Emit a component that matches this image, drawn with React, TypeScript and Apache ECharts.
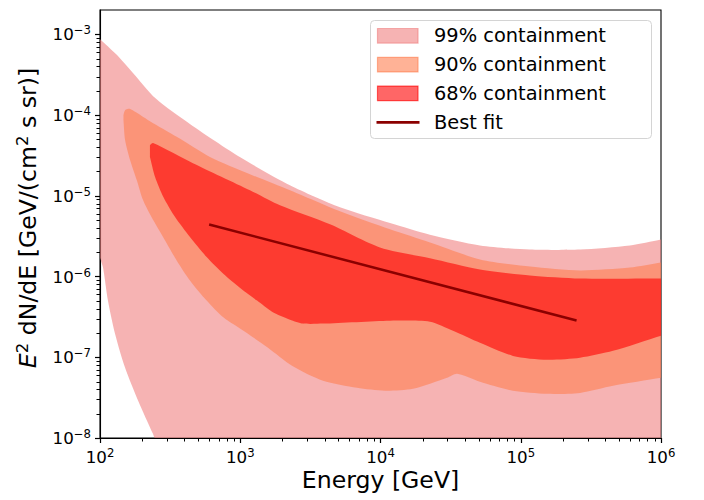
import React, { useEffect, useRef } from "react";
import * as echarts from "echarts";

// ---- axis ticks ----
const energyTicks = [1e2, 1e3, 1e4, 1e5, 1e6];
const fluxTicks = [1e-8, 1e-7, 1e-6, 1e-5, 1e-4, 1e-3];
const fluxMax = 2e-3;

// ---- 99% containment band ----
const band99UpperE = [100, 130, 170, 250, 440, 1000, 2260, 5140, 11700, 22500, 51200, 116000, 265000, 600000, 1000000];
const band99UpperF = [8.7e-4, 5.7e-4, 3.4e-4, 1.6e-4, 7.7e-5, 3.0e-5, 1.35e-5, 7.2e-6, 4.6e-6, 3.3e-6, 2.43e-6, 2.16e-6, 2.16e-6, 2.43e-6, 2.88e-6];
const band99LowerE = [100, 105, 114, 128, 151, 187, 239, 247, 1000000];
const band99LowerF = [1.7e-6, 1.3e-6, 5.0e-7, 1.96e-7, 7.4e-8, 2.9e-8, 1.12e-8, 1e-8, 1e-8];

// ---- 90% containment band ----
const band90UpperE = [147, 151, 164, 227, 352, 608, 1173, 2263, 5143, 11690, 22540, 51220, 116400, 264600, 601200, 1000000];
const band90UpperF = [1.0e-4, 1.15e-4, 1.19e-4, 8.4e-5, 5.37e-5, 3.03e-5, 1.85e-5, 1.17e-5, 6.42e-6, 3.84e-6, 2.64e-6, 1.63e-6, 1.33e-6, 1.19e-6, 1.29e-6, 1.49e-6];
const band90LowerE = [147, 151, 164, 183, 203, 240, 291, 352, 438, 576, 757, 1081, 1577, 2339, 3890, 6799, 10770, 17050, 29800, 35120, 51220, 88040, 153900, 264600, 454800, 1000000];
const band90LowerF = [8.67e-5, 4.89e-5, 2.76e-5, 1.56e-5, 8.79e-6, 4.96e-6, 2.8e-6, 1.58e-6, 8.92e-7, 5.03e-7, 3.12e-7, 2.07e-7, 1.31e-7, 7.84e-8, 5.11e-8, 4.18e-8, 3.84e-8, 4.06e-8, 5.56e-8, 6.24e-8, 4.97e-8, 3.84e-8, 3.52e-8, 3.62e-8, 4.43e-8, 5.56e-8];

// ---- 68% containment band ----
const band68UpperE = [227, 239, 460, 1173, 1920, 4365, 9917, 22540, 51220, 116400, 264600, 1000000];
const band68UpperF = [4.24e-5, 4.49e-5, 2.53e-5, 1.17e-5, 7.62e-6, 4.43e-6, 2.29e-6, 1.68e-6, 1.22e-6, 1.03e-6, 9.44e-7, 9.44e-7];
const band68LowerE = [227, 247, 283, 343, 438, 576, 757, 1051, 1317, 1684, 2263, 2802, 3890, 11690, 22540, 32880, 51220, 88040, 153900, 264600, 454800, 1000000];
const band68LowerF = [3.03e-5, 1.71e-5, 9.66e-6, 5.45e-6, 3.08e-6, 1.74e-6, 1.08e-6, 6.7e-7, 5.03e-7, 3.67e-7, 2.92e-7, 2.61e-7, 2.61e-7, 2.84e-7, 2.76e-7, 2.13e-7, 1.51e-7, 1.04e-7, 9.31e-8, 9.86e-8, 1.2e-7, 1.85e-7];

// ---- best fit ----
const fitE = [600, 250000];
const fitF = [4.4e-6, 2.85e-7];

const seriesNames = ["99% containment", "90% containment", "68% containment", "Best fit"];
const bandColors = ["rgba(240,128,128,0.6)", "rgba(255,127,80,0.6)", "rgba(255,0,0,0.6)"];
const fitColor = "#8b0000";

const FONT = "DejaVu Sans";

// Closed outline: upper boundary left->right, then lower boundary right->left.
// Boundary end points are repeated so the smoothing keeps those corners sharp.
function polygonPoints(upE: number[], upF: number[], loE: number[], loF: number[]) {
  const pts: number[][] = [];
  const n = upE.length;
  upE.forEach((e, i) => {
    pts.push([e, upF[i]]);
    if (i === 0 || i === n - 1) pts.push([e, upF[i]]);
  });
  const m = loE.length;
  for (let i = m - 1; i >= 0; i--) {
    pts.push([loE[i], loF[i]]);
    if (i === 0 || i === m - 1) pts.push([loE[i], loF[i]]);
  }
  return pts;
}

function minorTicks(majors: number[], max: number) {
  const out: number[] = [];
  majors.forEach((d) => {
    for (let k = 2; k <= 9; k++) {
      const v = k * d;
      if (v < max * 0.999) out.push(v);
    }
  });
  return out;
}

function bandSeries(name: string, color: string, pts: number[][]) {
  return {
    type: "custom",
    name,
    clip: true,
    silent: true,
    data: pts,
    encode: { x: 0, y: 1 },
    renderItem: (params: any, api: any) => {
      if (params.dataIndex !== 0) return null;
      const points = pts.map((p) => api.coord(p));
      return { type: "polygon", shape: { points, smooth: 0.25 }, style: { fill: color } };
    },
  };
}

// minor tick marks, placed through the axes' own log scales
function minorTickSeries(data: number[][], dir: "x" | "y") {
  return {
    type: "custom",
    silent: true,
    clip: false,
    data,
    encode: { x: 0, y: 1 },
    z: 50,
    renderItem: (params: any, api: any) => {
      const p = api.coord([api.value(0), api.value(1)]);
      const shape =
        dir === "x"
          ? { x1: Math.round(p[0]) + 0.5, y1: p[1], x2: Math.round(p[0]) + 0.5, y2: p[1] + 3.5 }
          : { x1: p[0] - 3.5, y1: Math.round(p[1]) + 0.5, x2: p[0], y2: Math.round(p[1]) + 0.5 };
      return { type: "line", shape, style: { stroke: "#000", lineWidth: 1 } };
    },
  };
}

const supText = (n: number) => (n < 0 ? "\u2212" + -n : String(n));
const powLabel = (v: number) => {
  const l = Math.log10(v);
  const n = Math.round(l);
  if (Math.abs(l - n) > 1e-6) return "";
  return `{b|10}{s|${supText(n)}}`;
};

const tickRich = {
  b: { fontSize: 16.7, fontFamily: FONT, color: "#000", lineHeight: 20 },
  s: { fontSize: 11.7, fontFamily: FONT, color: "#000", verticalAlign: "top", lineHeight: 12 },
};

export default function App() {
  const ref = useRef<HTMLDivElement>(null);
  useEffect(() => {
    if (!ref.current) return;
    const chart = echarts.init(ref.current, undefined, { renderer: "svg" });

    const legendRows = [35.8, 64.6, 93.4, 122.3];
    const graphic: any[] = [
      {
        type: "rect",
        shape: { x: 370.5, y: 20.5, width: 281, height: 118, r: 4 },
        style: { fill: "rgba(255,255,255,0.8)", stroke: "#d4d4d4", lineWidth: 1 },
        z: 100,
      },
    ];
    for (let i = 0; i < 3; i++) {
      graphic.push({
        type: "rect",
        shape: { x: 377.5, y: legendRows[i] - 7.3, width: 40.5, height: 14.6 },
        style: { fill: bandColors[i], stroke: bandColors[i], lineWidth: 1.2 },
        z: 101,
      });
    }
    graphic.push({
      type: "line",
      shape: { x1: 376.5, y1: legendRows[3], x2: 419.5, y2: legendRows[3] },
      style: { stroke: fitColor, lineWidth: 2.7 },
      z: 101,
    });
    for (let i = 0; i < 4; i++) {
      graphic.push({
        type: "text",
        x: 434,
        y: legendRows[i],
        style: {
          text: seriesNames[i],
          font: `19.4px "${FONT}"`,
          fill: "#000",
          verticalAlign: "middle",
          align: "left",
        },
        z: 101,
      });
    }

    const tickLine = { color: "#000", width: 1.2 };
    const eMin = energyTicks[0];
    const eMax = energyTicks[energyTicks.length - 1];
    const fMin = fluxTicks[0];
    const xMinor = minorTicks(energyTicks, eMax);
    const yMinor = minorTicks(fluxTicks, fluxMax);

    chart.setOption({
      animation: false,
      backgroundColor: "#fff",
      grid: {
        left: 100,
        right: 43,
        top: 10,
        bottom: 62,
        containLabel: false,
        outerBoundsMode: "none",
        show: true,
        borderColor: "#000",
        borderWidth: 1.1,
        backgroundColor: "transparent",
      },
      xAxis: {
        type: "log",
        logBase: 10,
        min: eMin,
        max: eMax,
        position: "bottom",
        axisLine: { show: true, lineStyle: { color: "#000", width: 1.1 } },
        splitLine: { show: false },
        minorTick: { show: false },
        nameMoveOverlap: false,
        axisTick: { show: true, length: 5, lineStyle: tickLine },
        axisLabel: { formatter: powLabel, margin: 9, rich: tickRich },
        name: "Energy [GeV]",
        nameLocation: "middle",
        nameGap: 30,
        nameTextStyle: { fontSize: 23.6, fontFamily: FONT, color: "#000" },
      },
      yAxis: {
        type: "log",
        logBase: 10,
        min: fMin,
        max: fluxMax,
        position: "left",
        axisLine: { show: true, lineStyle: { color: "#000", width: 1.1 } },
        splitLine: { show: false },
        minorTick: { show: false },
        nameMoveOverlap: false,
        axisTick: { show: true, length: 5, customValues: fluxTicks, lineStyle: tickLine },
        axisLabel: { customValues: fluxTicks, formatter: powLabel, margin: 9, rich: tickRich },
        name: "{i|E}{s|2} dN/dE [GeV/(cm{s|2} s sr)]",
        nameLocation: "middle",
        nameGap: 58,
        nameTextStyle: {
          fontSize: 23.6,
          fontFamily: FONT,
          color: "#000",
          padding: [0, 0, 0, 12],
          rich: {
            i: { fontSize: 23.6, fontFamily: FONT, fontStyle: "italic", color: "#000", lineHeight: 28 },
            s: { fontSize: 16.5, fontFamily: FONT, color: "#000", verticalAlign: "top", lineHeight: 16 },
          },
        },
      },
      series: [
        bandSeries(seriesNames[0], bandColors[0], polygonPoints(band99UpperE, band99UpperF, band99LowerE, band99LowerF)),
        bandSeries(seriesNames[1], bandColors[1], polygonPoints(band90UpperE, band90UpperF, band90LowerE, band90LowerF)),
        bandSeries(seriesNames[2], bandColors[2], polygonPoints(band68UpperE, band68UpperF, band68LowerE, band68LowerF)),
        {
          type: "line",
          name: seriesNames[3],
          data: fitE.map((e, i) => [e, fitF[i]]),
          showSymbol: false,
          symbol: "none",
          lineStyle: { color: fitColor, width: 2.5 },
          itemStyle: { color: fitColor },
          silent: true,
        },
        minorTickSeries(xMinor.map((v) => [v, fMin]), "x"),
        minorTickSeries(yMinor.map((v) => [eMin, v]), "y"),
      ],
      graphic,
    });
    return () => chart.dispose();
  }, []);
  return (
    <div
      ref={ref}
      style={{ position: "absolute", left: 0, top: 0, width: 704, height: 500 }}
    />
  );
}
